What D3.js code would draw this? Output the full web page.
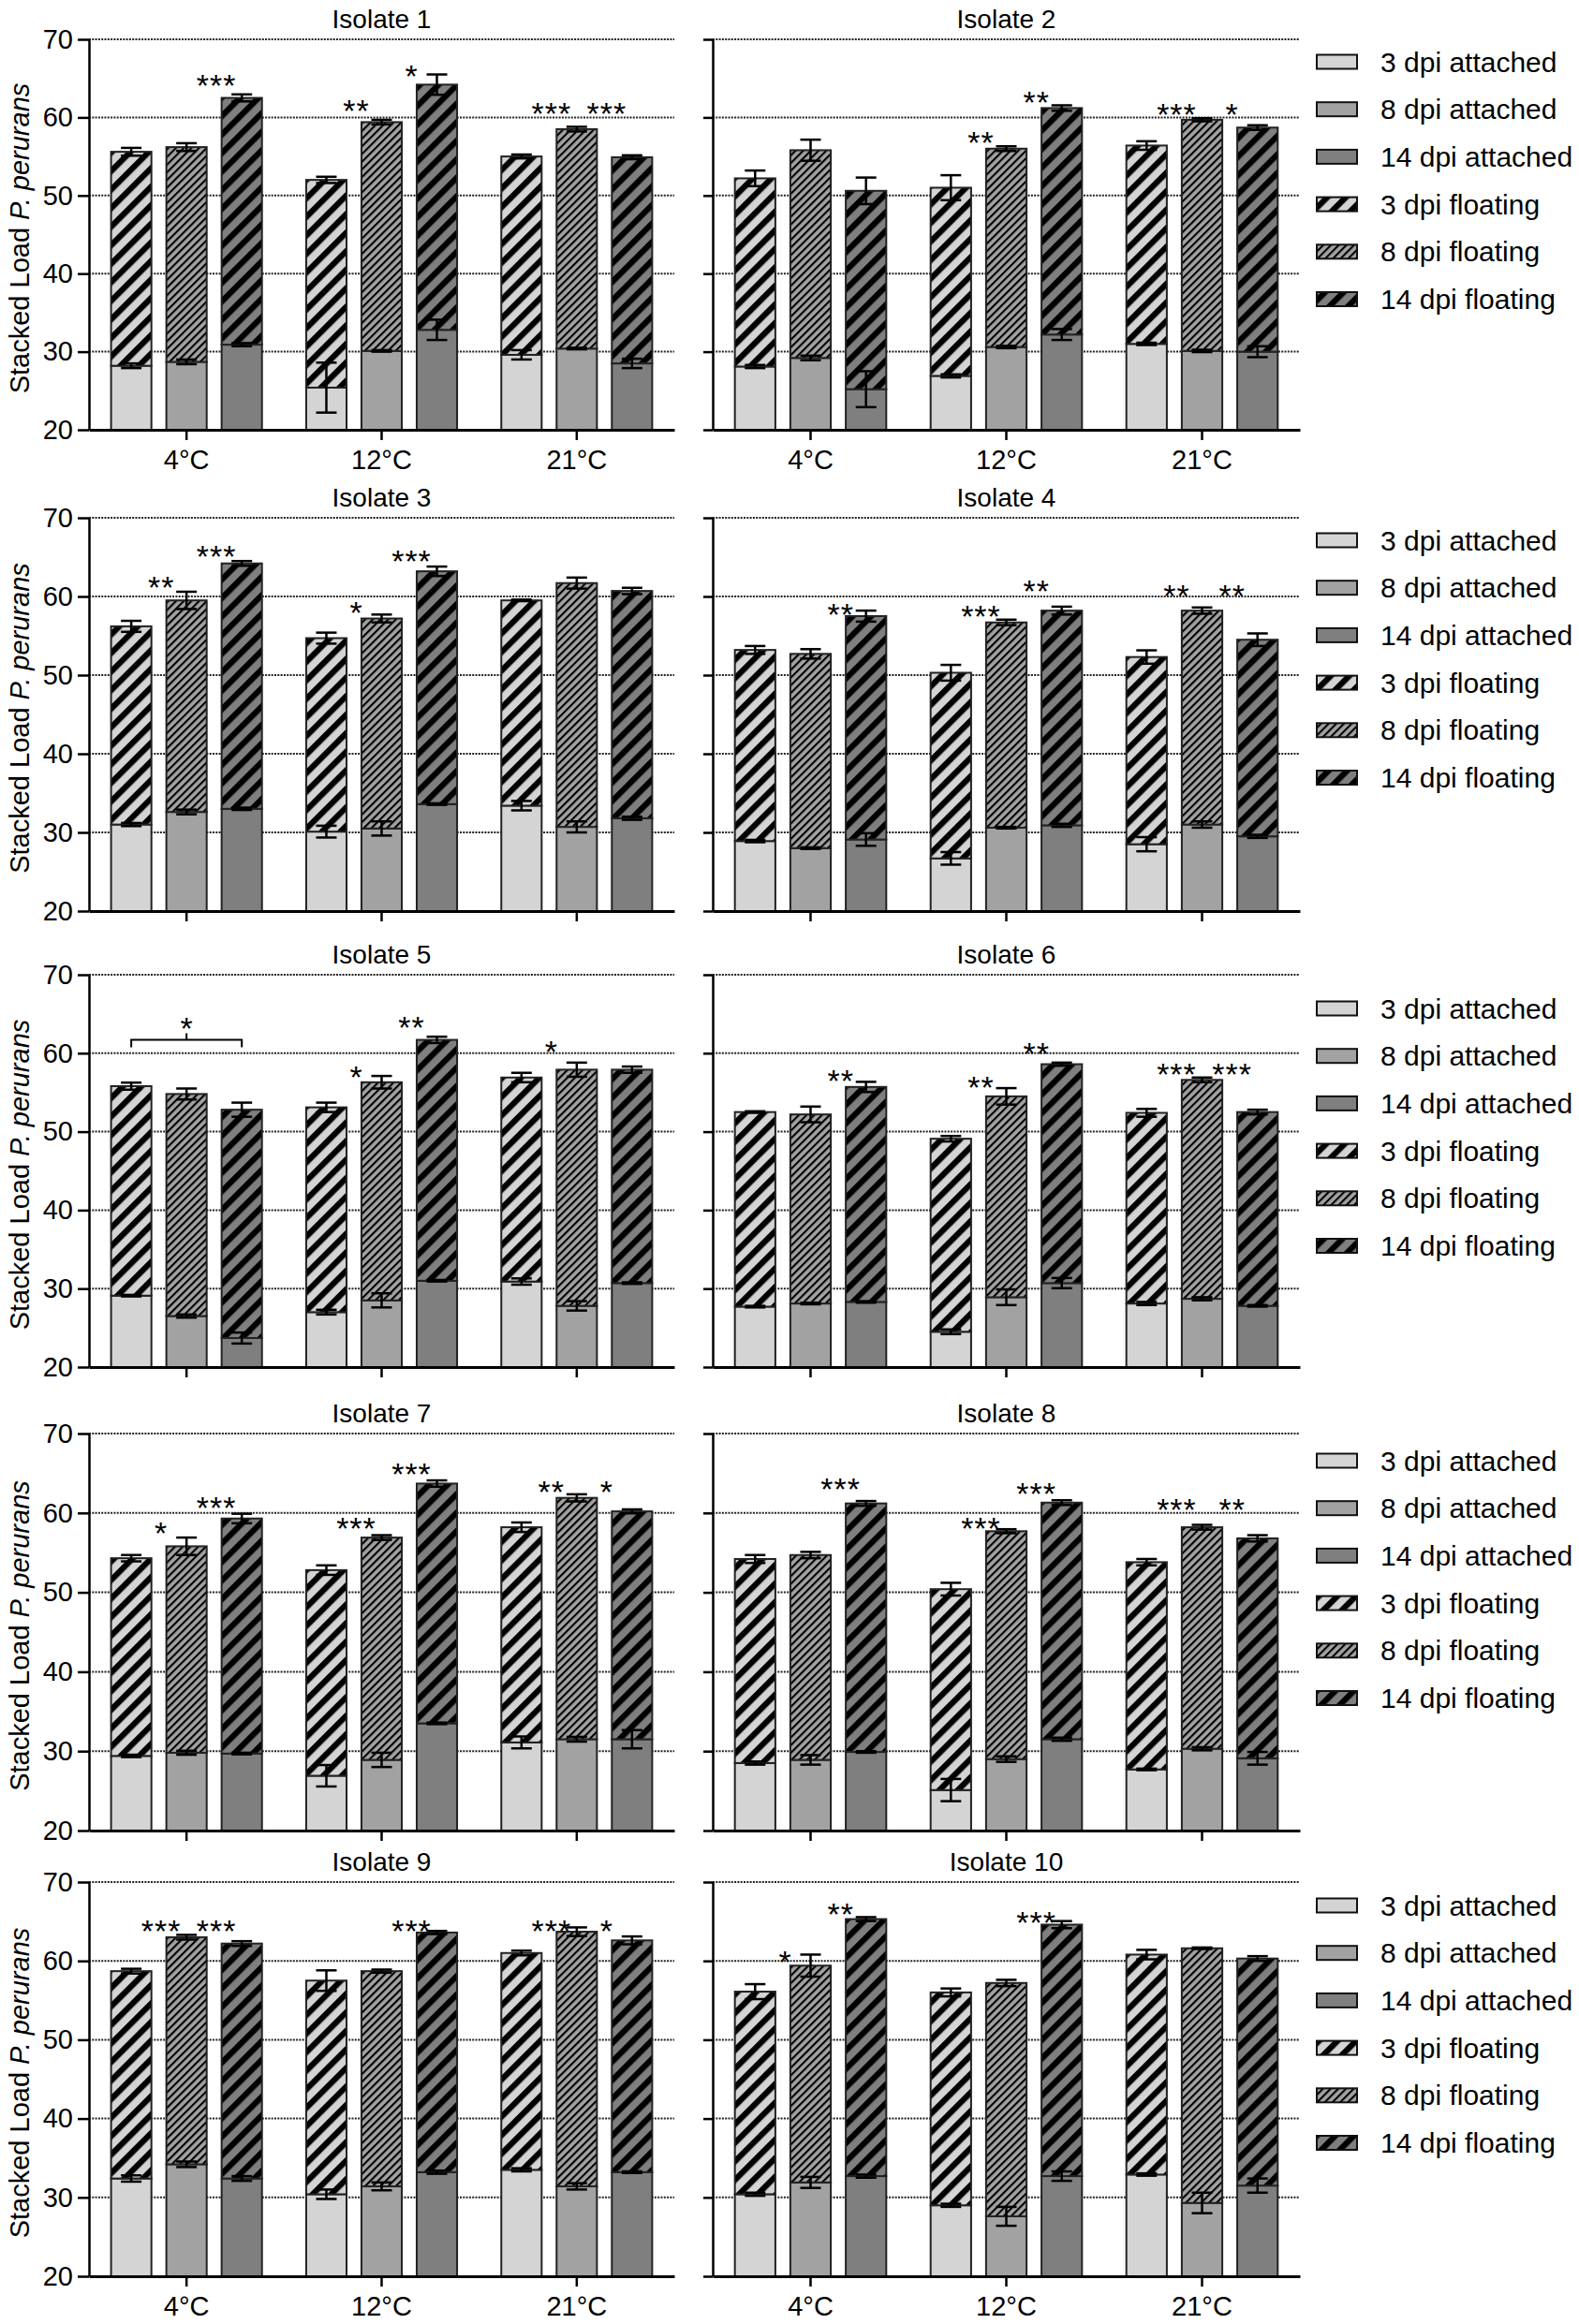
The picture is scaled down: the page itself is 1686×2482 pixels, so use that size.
<!DOCTYPE html>
<html><head><meta charset="utf-8">
<script src="https://cdn.jsdelivr.net/npm/d3@7"></script>
<style>
html,body{margin:0;padding:0;background:#fff;}
svg{display:block;font-family:"Liberation Sans",Arial,sans-serif;}
</style></head><body>
<svg id="chart" width="1686" height="2482"></svg>
<script>
// ---------------- DATA ----------------
const isolates = ["Isolate 1","Isolate 2","Isolate 3","Isolate 4","Isolate 5","Isolate 6","Isolate 7","Isolate 8","Isolate 9","Isolate 10"];
const temperatures = ["4°C","12°C","21°C"];
const timepoints = ["3 dpi","8 dpi","14 dpi"];
const legendLabels = ["3 dpi attached","8 dpi attached","14 dpi attached","3 dpi floating","8 dpi floating","14 dpi floating"];
const yTicks = [20,30,40,50,60,70];

// order per isolate: 4°C(3,8,14 dpi), 12°C(3,8,14 dpi), 21°C(3,8,14 dpi)
const attached = [
  [28.2,28.7,30.9, 25.4,30.1,32.8, 29.6,30.4,28.5],
  [28.1,29.2,25.2, 26.9,30.6,32.2, 31.0,30.1,30.0],
  [31.0,32.6,33.0, 30.1,30.5,33.6, 33.4,30.7,31.8],
  [28.9,28.0,29.1, 26.7,30.6,30.9, 28.5,31.0,29.5],
  [29.1,26.5,23.7, 27.0,28.5,31.0, 30.9,27.8,30.7],
  [27.7,28.1,28.3, 24.5,28.9,30.7, 28.1,28.7,27.8],
  [29.4,29.8,29.7, 26.9,28.9,33.5, 31.1,31.5,31.5],
  [28.5,28.9,29.9, 25.1,29.0,31.5, 27.7,30.3,29.1],
  [32.4,34.2,32.4, 30.4,31.4,33.2, 33.5,31.4,33.2],
  [30.4,31.9,32.7, 29.0,27.6,32.7, 32.9,29.3,31.5]
];
const attachedErr = [
  [0.3,0.3,0.2, 3.2,0.1,1.3, 0.6,0.1,0.6],
  [0.2,0.3,2.3, 0.2,0.15,0.7, 0.15,0.15,0.7],
  [0.2,0.3,0.15, 0.75,0.9,0.1, 0.6,0.7,0.2],
  [0.15,0.1,0.8, 0.8,0.1,0.2, 0.9,0.4,0.2],
  [0.1,0.2,0.7, 0.3,0.9,0.1, 0.4,0.6,0.1],
  [0.1,0.1,0.1, 0.3,1.0,0.65, 0.2,0.2,0.1],
  [0.15,0.25,0.1, 1.35,0.9,0.1, 0.75,0.3,1.15],
  [0.2,0.6,0.1, 1.4,0.35,0.2, 0.1,0.2,0.8],
  [0.4,0.35,0.3, 0.6,0.5,0.2, 0.2,0.4,0.1],
  [0.2,0.7,0.2, 0.2,1.2,0.6, 0.15,1.3,0.9]
];
const floating = [
  [27.4,27.5,31.6, 26.6,29.3,31.4, 25.4,28.1,26.4],
  [24.1,26.6,25.4, 24.1,25.4,29.0, 25.4,29.6,28.7],
  [25.2,26.9,31.2, 24.6,26.7,29.6, 26.1,31.0,28.9],
  [24.3,24.7,28.4, 23.6,26.1,27.3, 23.8,27.2,25.0],
  [26.7,28.3,29.1, 26.1,27.8,30.7, 26.0,30.1,27.2],
  [24.8,24.1,27.4, 24.6,25.6,27.9, 24.3,27.9,24.7],
  [24.9,26.0,29.6, 25.9,28.0,30.2, 27.1,30.4,28.7],
  [25.7,25.8,31.3, 25.3,28.7,29.8, 26.1,27.9,27.7],
  [26.3,28.8,29.8, 27.1,27.3,30.4, 27.5,32.3,29.4],
  [25.7,27.5,32.6, 27.0,29.6,31.9, 27.9,32.3,28.8]
];
const totalErr = [
  [0.5,0.5,0.45, 0.4,0.3,1.3, 0.25,0.3,0.25],
  [1.0,1.35,1.7, 1.6,0.3,0.35, 0.55,0.2,0.3],
  [0.7,1.1,0.3, 0.7,0.5,0.6, 0.1,0.7,0.4],
  [0.5,0.6,0.7, 1.0,0.35,0.5, 0.85,0.4,0.8],
  [0.45,0.7,0.9, 0.6,0.8,0.4, 0.6,0.9,0.4],
  [0.1,1.0,0.65, 0.35,1.05,0.2, 0.5,0.3,0.3],
  [0.4,1.1,0.6, 0.6,0.3,0.4, 0.6,0.45,0.25],
  [0.5,0.4,0.3, 0.8,0.25,0.3, 0.4,0.3,0.4],
  [0.3,0.3,0.3, 1.3,0.2,0.2, 0.3,0.55,0.5],
  [0.95,1.4,0.25, 0.5,0.4,0.45, 0.6,0.1,0.3]
];
// significance marks: [isolate index, temperature index, timepoint index, label, level]
const stars = [
  [0,0,2,"***",65.0],[0,1,1,"**",61.7],[0,1,2,"*",66.2],[0,2,1,"***",61.4],[0,2,2,"***",61.4],
  [1,1,1,"**",57.6],[1,1,2,"**",62.8],[1,2,1,"***",61.2],[1,2,2,"*",61.2],
  [2,0,1,"**",62.0],[2,0,2,"***",66.0],[2,1,1,"*",58.8],[2,1,2,"***",65.4],
  [3,0,2,"**",58.6],[3,1,1,"***",58.3],[3,1,2,"**",61.5],[3,2,1,"**",61.0],[3,2,2,"**",61.0],
  [4,1,1,"*",57.8],[4,1,2,"**",64.2],[4,2,1,"*",61.1],
  [5,0,2,"**",57.4],[5,1,1,"**",56.5],[5,1,2,"**",60.8],[5,2,1,"***",58.2],[5,2,2,"***",58.2],
  [6,0,1,"*",58.3],[6,0,2,"***",61.5],[6,1,1,"***",58.9],[6,1,2,"***",65.7],[6,2,1,"**",63.5],[6,2,2,"*",63.5],
  [7,0,2,"***",63.9],[7,1,1,"***",58.9],[7,1,2,"***",63.3],[7,2,1,"***",61.3],[7,2,2,"**",61.3],
  [8,0,1,"***",64.7],[8,0,2,"***",64.7],[8,1,2,"***",64.7],[8,2,1,"***",64.7],[8,2,2,"*",64.7],
  [9,0,1,"*",60.7],[9,0,2,"**",66.8],[9,1,2,"***",65.7]
];
// brackets: [isolate index, temperature index, from timepoint, to timepoint, label, level]
const brackets = [[4,0,0,2,"*",61.7]];

// ---------------- LAYOUT ----------------
const rowTop = [42,553,1041,1531,2010];
const rowBottom = [459,973,1460,1955,2431];
const colX = [[95,720],[761,1388]];
const legendY0 = [66,577,1077,1560,2035];
const legendStep = 50.7;
const fills = ["#d4d4d4","#a2a2a2","#7f7f7f"];
const FONT = 28;
const STAR = 34;

const svg = d3.select("#chart");
const defs = svg.append("defs");
function hatch(id, fill, period, thick){
  const p = defs.append("pattern").attr("id",id).attr("patternUnits","userSpaceOnUse")
    .attr("width",period).attr("height",period).attr("patternTransform","rotate(45)");
  p.append("rect").attr("width",period).attr("height",period).attr("fill",fill);
  p.append("rect").attr("width",thick).attr("height",period).attr("fill","#000");
}
hatch("h0", fills[0], 14, 6.3);
hatch("h1", fills[1], 5.8, 2.1);
hatch("h2", fills[2], 14, 6.3);

isolates.forEach((name, i) => {
  const r = Math.floor(i/2), c = i%2;
  const [x0,x1] = colX[c];
  const y = d3.scaleLinear().domain([20,70]).range([rowBottom[r], rowTop[r]]);
  const x = d3.scaleBand().domain(temperatures).range([x0,x1]);
  const xs = d3.scaleBand().domain(d3.range(3)).range([0,x.bandwidth()]).paddingInner(0.27).paddingOuter(0.4);
  const bw = xs.bandwidth();
  const g = svg.append("g");

  // grid
  g.selectAll(".grid").data(yTicks.slice(1)).join("line")
    .attr("x1", x0).attr("x2", x1).attr("y1", d=>y(d)).attr("y2", d=>y(d))
    .attr("stroke","#222").attr("stroke-width",2).attr("stroke-dasharray","2,1.3");

  const recs = [];
  temperatures.forEach((t,ti)=> timepoints.forEach((tp,k)=>{
    const idx = ti*3+k;
    const att = attached[i][idx], flo = floating[i][idx];
    recs.push({t, k, att, attE: attachedErr[i][idx], tot: att+flo, totE: totalErr[i][idx],
      xl: x(t)+xs(k)});
  }));

  // attached
  g.selectAll(".att").data(recs).join("rect")
    .attr("x", d=>d.xl).attr("width", bw)
    .attr("y", d=>y(d.att)).attr("height", d=>y(20)-y(d.att))
    .attr("fill", d=>fills[d.k]).attr("stroke","#222").attr("stroke-width",2);
  // floating
  g.selectAll(".flo").data(recs).join("rect")
    .attr("x", d=>d.xl).attr("width", bw)
    .attr("y", d=>y(d.tot)).attr("height", d=>y(d.att)-y(d.tot))
    .attr("fill", d=>`url(#h${d.k})`).attr("stroke","#222").attr("stroke-width",2);

  // error bars
  const errs = [];
  recs.forEach(d=>{ errs.push({cx:d.xl+bw/2, v:d.att, e:d.attE}); errs.push({cx:d.xl+bw/2, v:d.tot, e:d.totE}); });
  const eg = g.selectAll(".err").data(errs).join("g");
  eg.append("line").attr("x1",d=>d.cx).attr("x2",d=>d.cx)
    .attr("y1",d=>y(d.v-d.e)).attr("y2",d=>y(d.v+d.e)).attr("stroke","#000").attr("stroke-width",2.5);
  eg.append("line").attr("x1",d=>d.cx-11).attr("x2",d=>d.cx+11)
    .attr("y1",d=>y(d.v+d.e)).attr("y2",d=>y(d.v+d.e)).attr("stroke","#000").attr("stroke-width",2.5);
  eg.append("line").attr("x1",d=>d.cx-11).attr("x2",d=>d.cx+11)
    .attr("y1",d=>y(d.v-d.e)).attr("y2",d=>y(d.v-d.e)).attr("stroke","#000").attr("stroke-width",2.5);

  // y axis
  const ya = d3.axisLeft(y).tickValues(yTicks).tickSize(c===0?12:10).tickSizeOuter(0).tickPadding(5);
  if (c===1) ya.tickFormat(()=>"");
  const yg = g.append("g").attr("transform",`translate(${x0},0)`).call(ya);
  yg.select(".domain").attr("stroke","#000").attr("stroke-width",2.5);
  yg.selectAll(".tick line").attr("stroke","#000").attr("stroke-width",2.5);
  yg.selectAll("text").attr("font-size",29).attr("fill","#000").attr("font-family",'"Liberation Sans",Arial,sans-serif');

  // x axis
  const xa = d3.axisBottom(x).tickSize(11).tickSizeOuter(0).tickPadding(10);
  if (r!==0 && r!==4) xa.tickFormat(()=>"");
  const xg = g.append("g").attr("transform",`translate(0,${y(20)})`).call(xa);
  xg.select(".domain").attr("stroke","#000").attr("stroke-width",3);
  xg.selectAll(".tick line").attr("stroke","#000").attr("stroke-width",2.5);
  xg.selectAll("text").attr("font-size",29).attr("fill","#000").attr("font-family",'"Liberation Sans",Arial,sans-serif');

  // title
  g.append("text").attr("x",(x0+x1)/2).attr("y",rowTop[r]-12).attr("text-anchor","middle")
    .attr("font-size",FONT).text(name);

  // y label
  if (c===0){
    const t = g.append("text").attr("transform",`translate(21,${(rowTop[r]+rowBottom[r])/2+4}) rotate(-90)`)
      .attr("text-anchor","middle").attr("dominant-baseline","central").attr("font-size",29);
    t.append("tspan").text("Stacked Load ");
    t.append("tspan").attr("font-style","italic").text("P. perurans");
  }

  // stars
  stars.filter(s=>s[0]===i).forEach(s=>{
    const cx = x(temperatures[s[1]]) + xs(s[2]) + bw/2 - 27;
    g.append("text").attr("x",cx).attr("y",y(s[4])+19).attr("text-anchor","middle")
      .attr("font-size",STAR).attr("letter-spacing",1).text(s[3]);
  });
  brackets.filter(b=>b[0]===i).forEach(b=>{
    const t = temperatures[b[1]];
    const xa1 = x(t)+xs(b[2])+bw/2, xa2 = x(t)+xs(b[3])+bw/2, yl = y(b[5]), xm=(xa1+xa2)/2;
    g.append("path").attr("d",`M${xa1},${yl+8}V${yl}H${xa2}V${yl+8}M${xm},${yl}V${yl-7}`)
      .attr("fill","none").attr("stroke","#000").attr("stroke-width",2);
    g.append("text").attr("x",xm).attr("y",yl-20+19).attr("text-anchor","middle").attr("font-size",STAR).text(b[4]);
  });

  // legend
  if (c===1){
    const lg = g.append("g");
    legendLabels.forEach((lab,j)=>{
      const cy = legendY0[r] + j*legendStep;
      lg.append("rect").attr("x",1406).attr("y",cy-7.5).attr("width",43).attr("height",15)
        .attr("fill", j<3 ? fills[j] : `url(#h${j-3})`).attr("stroke","#111").attr("stroke-width",2);
      lg.append("text").attr("x",1474).attr("y",cy).attr("dominant-baseline","central")
        .attr("font-size",30).text(lab);
    });
  }
});
</script>
</body></html>
